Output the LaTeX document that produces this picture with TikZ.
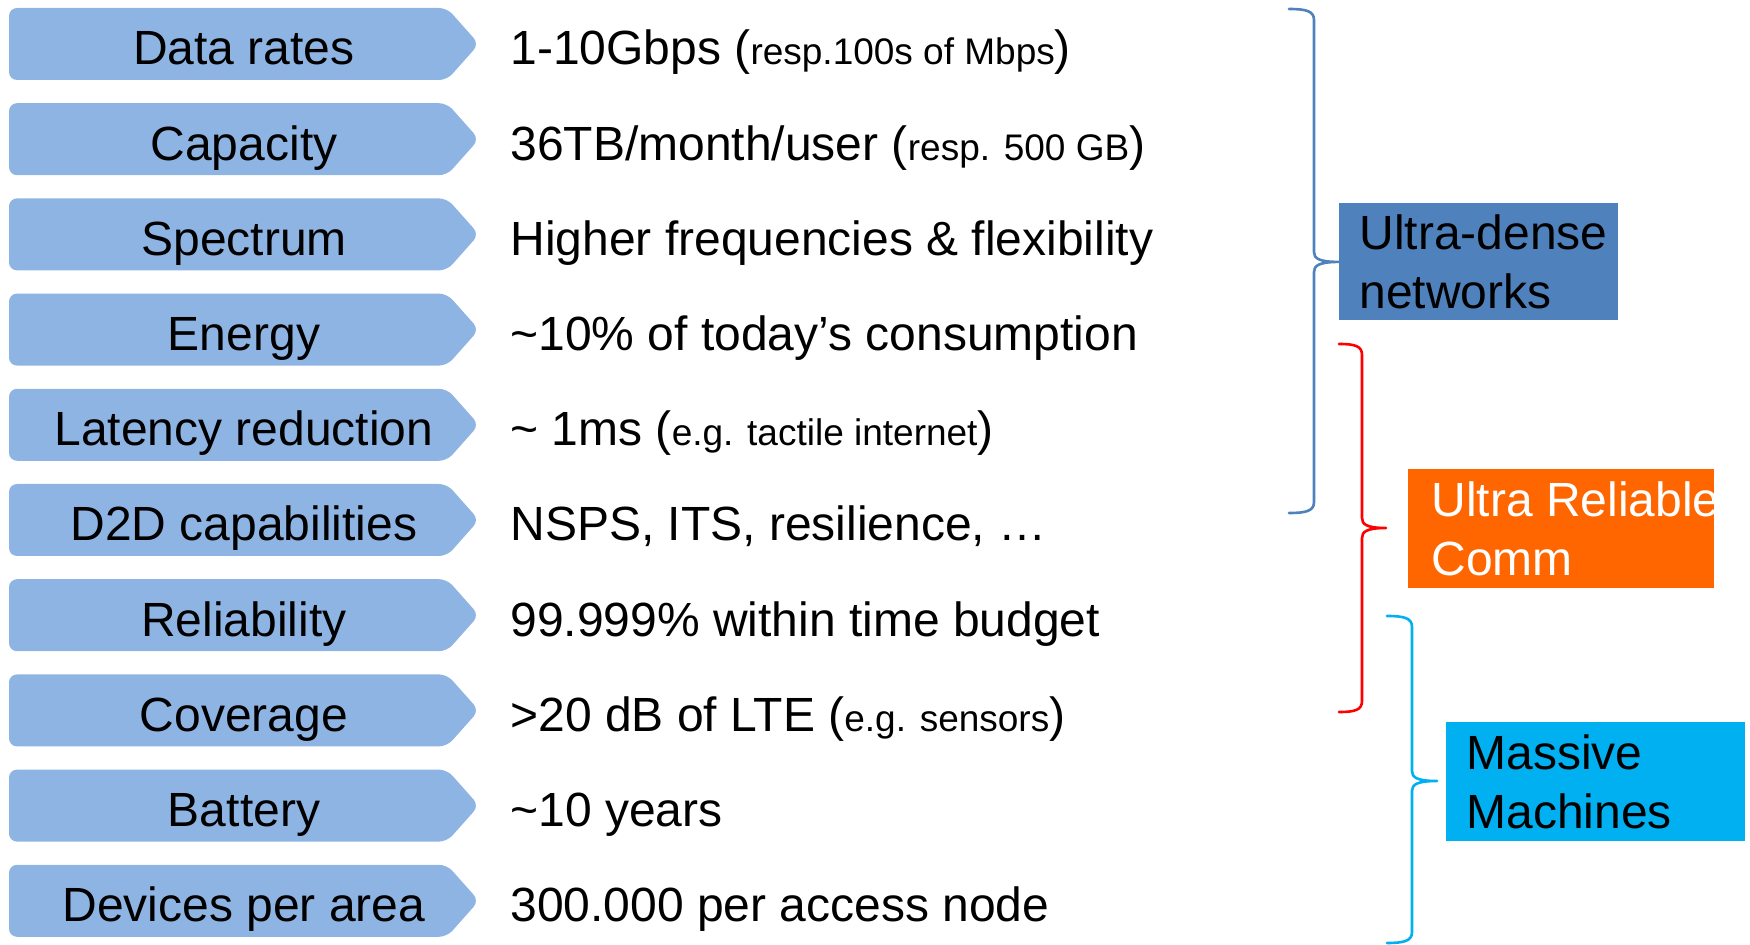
\documentclass[tikz,border=0pt]{standalone}
\usepackage{fontspec}
\setmainfont{Liberation Sans}
\definecolor{chevfill}{HTML}{8EB4E3}
\definecolor{udblue}{HTML}{4F81BD}
\definecolor{urorange}{HTML}{FF6600}
\definecolor{mmcyan}{HTML}{00B0F0}
\definecolor{bracered}{HTML}{FF0000}
\newcommand\smalltxt[1]{{\fontsize{18.5}{21}\selectfont #1}}
\tikzset{
  chevron/.style={fill=chevfill, draw=none, rounded corners=4pt},
  chevlab/.style={anchor=base, inner sep=0pt, font=\fontsize{24}{28}\selectfont},
  rowtxt/.style={anchor=base west, inner sep=0pt, font=\fontsize{24}{28}\selectfont},
  catbox/.style={anchor=north west, rectangle, inner sep=0pt, draw=none},
  cattxt/.style={anchor=west, inner sep=0pt, align=left, font=\fontsize{24}{29.5}\selectfont},
  bracepath/.style={line width=1.3pt, line cap=round, line join=round},
}
\begin{document}
\begin{tikzpicture}[x=0.5pt,y=-0.5pt]
\useasboundingbox (0,0) rectangle (1750,945);
% chevrons
\foreach \i/\lab in {0/Data rates,1/Capacity,2/Spectrum,3/Energy,4/Latency reduction,5/D2D capabilities,6/Reliability,7/Coverage,8/Battery,9/Devices per area}{
  \pgfmathsetmacro\yc{44+95.2*\i}
  \fill[chevron] (9,\yc-36) -- (447,\yc-36) -- (479,\yc) -- (447,\yc+36) -- (9,\yc+36) -- cycle;
  \node[chevlab] (c\i) at (244,\yc+21) {\lab};
}
% row texts
\node[rowtxt] (t0) at (510,65) {1-10Gbps (\smalltxt{resp.100s of Mbps})};
\node[rowtxt] (t1) at (510,160.2) {36TB/month/user (\smalltxt{resp. 500 GB})};
\node[rowtxt] (t2) at (510,255.4) {Higher frequencies \& flexibility};
\node[rowtxt] (t3) at (510,350.6) {\textasciitilde10\% of today’s consumption};
\node[rowtxt] (t4) at (510,445.8) {\textasciitilde\ 1ms (\smalltxt{e.g. tactile internet})};
\node[rowtxt] (t5) at (510,541) {NSPS, ITS, resilience, …};
\node[rowtxt] (t6) at (510,636.2) {99.999\% within time budget};
\node[rowtxt] (t7) at (510,731.4) {>20 dB of LTE (\smalltxt{e.g. sensors})};
\node[rowtxt] (t8) at (510,826.6) {\textasciitilde10 years};
\node[rowtxt] (t9) at (510,921.8) {300.000 per access node};
% category boxes
\node[catbox, fill=udblue, minimum width=139.5pt, minimum height=58.5pt] (ud) at (1339,203) {};
\node[cattxt, text=black] (udt) at (1359,262) {Ultra-dense\\networks};
\node[catbox, fill=urorange, minimum width=153pt, minimum height=59.5pt] (ur) at (1408,469) {};
\node[cattxt, text=white] (urt) at (1431,529) {Ultra Reliable\\Comm};
\node[catbox, fill=mmcyan, minimum width=149.5pt, minimum height=59.5pt] (mm) at (1446,722) {};
\node[cattxt, text=black] (mmt) at (1466,782) {Massive\\Machines};
% brace end points
\coordinate (bt) at (1289,9);
\coordinate (bb) at (1289,513);
\coordinate (btip) at (ud.west);
\coordinate (rt) at (1339,344);
\coordinate (rb) at (1339,712);
\coordinate (rtip) at (1386,528);
\coordinate (ct) at (1387,616);
\coordinate (cb) at (1387,943);
\coordinate (ctip) at (1437,781);
% braces
\draw[bracepath, udblue] (bt) .. controls (1306,9) and (1314,11) .. (1314,20) -- (1314,252)
   .. controls (1314,258) and (1318,262) .. (btip)
   .. controls (1318,262) and (1314,266) .. (1314,272) -- (1314,502)
   .. controls (1314,511) and (1306,513) .. (bb);
\draw[bracepath, bracered] (rt) .. controls (1355,344) and (1362,346) .. (1362,355) -- (1362,518)
   .. controls (1362,524) and (1366,528) .. (rtip)
   .. controls (1366,528) and (1362,532) .. (1362,538) -- (1362,701)
   .. controls (1362,710) and (1355,712) .. (rb);
\draw[bracepath, mmcyan] (ct) .. controls (1404,616) and (1412,618) .. (1412,627) -- (1412,771)
   .. controls (1412,777) and (1416,781) .. (ctip)
   .. controls (1416,781) and (1412,785) .. (1412,791) -- (1412,932)
   .. controls (1412,941) and (1404,943) .. (cb);
\end{tikzpicture}
\end{document}
